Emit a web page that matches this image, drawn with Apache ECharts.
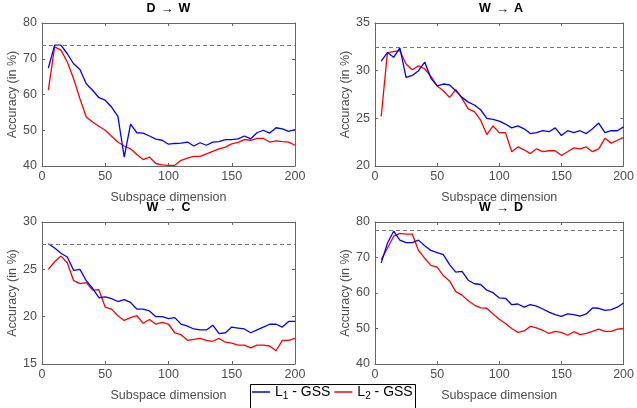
<!DOCTYPE html>
<html>
<head>
<meta charset="utf-8">
<script src="https://cdn.jsdelivr.net/npm/echarts@6/dist/echarts.min.js"></script>
<style>html,body{margin:0;padding:0;background:#fff}#c{width:637px;height:408px}</style>
</head>
<body>
<div id="c"></div>
<script>
var dims = [5,10,15,20,25,30,35,40,45,50,55,60,65,70,75,80,85,90,95,100,105,110,115,120,125,130,135,140,145,150,155,160,165,170,175,180,185,190,195,200];

var titlesFrom = ['D','W','W','W'];
var titlesTo = ['W','A','C','D'];

var dwL1 = [67.4,73.8,73.8,71.4,68.6,67,63,61.2,59.1,58.4,56.5,53.9,42.5,51.7,49.3,49.2,48.4,47.5,47.2,46.1,46.3,46.4,46.7,45.6,46.5,45.8,46.7,46.8,47.4,47.4,47.6,48.4,47.6,49.3,50,49.2,50.7,50.4,49.7,50.2];
var dwL2 = [61.2,73.3,72.4,69.1,64.4,58.8,53.7,52.3,51.1,50,48.3,46.7,45.6,44.8,43.2,41.8,42.5,40.7,40.3,40.2,40.2,41.6,42.2,42.7,42.7,43.4,44.1,44.8,45.3,46.2,46.6,47.4,47.2,47.7,47.7,46.7,47,46.8,46.7,45.8];

var waL1 = [31.0,31.9,31.4,32.4,29.3,29.5,30.0,30.9,29.2,28.4,28.6,28.5,27.9,27.2,26.7,26.4,25.9,25.0,24.9,24.7,24.4,24.0,24.2,23.9,23.4,23.5,23.7,23.6,24.0,23.2,23.7,23.5,23.7,23.4,23.9,24.5,23.5,23.7,23.7,24.1];
var waL2 = [25.2,31.9,32.0,32.1,30.7,30.1,30.5,30.2,29.4,28.4,27.9,27.2,28.0,27.1,26.0,25.7,24.8,23.3,24.2,23.5,23.5,21.5,22.0,21.7,21.3,21.8,21.5,21.6,21.6,21.1,21.5,21.9,21.8,22.0,21.5,21.8,22.9,22.4,22.7,23.0];

var wcL1 = [27.7,27.25,26.7,26.3,24.9,25.0,23.8,23.0,22.0,22.1,21.9,21.6,21.8,21.5,20.8,20.8,20.6,20.0,20.0,19.8,19.9,19.2,19.0,18.7,18.6,18.6,19.1,18.2,18.3,18.9,18.8,18.7,18.3,18.6,18.9,19.2,19.2,18.9,19.5,19.5];
var wcL2 = [25.0,25.8,26.4,25.7,23.8,23.5,23.6,22.8,22.85,21.0,20.8,20.1,19.6,19.9,20.1,19.3,19.7,19.2,19.4,19.2,18.3,18.1,17.5,17.6,17.7,17.5,17.4,17.7,17.3,17.2,17.0,17.0,16.7,17.0,17.0,16.9,16.4,17.5,17.5,17.7];

var wdL1 = [68.5,74.0,77.4,74.9,74.2,74.2,74.9,73.3,72.0,71.4,70.8,68.0,65.9,66.1,63.6,62.6,62.4,60.8,60.1,58.6,58.5,56.7,56.9,56.0,56.7,56.3,55.5,54.6,53.9,53.4,54.1,53.9,53.5,54.1,55.8,55.7,55.1,55.3,56.0,57.2];
var wdL2 = [69.4,72.6,76.0,76.8,76.6,76.6,72.0,69.8,67.8,67.3,64.9,63.4,60.4,59.4,57.8,56.6,55.8,55.7,54.1,52.6,51.4,50.0,48.9,49.3,50.6,50.2,49.5,48.6,49.2,48.9,48.1,49.1,48.3,48.6,49.2,49.8,49.2,49.2,49.8,50.0];

var baselines = [73.7, 32.5, 27.7, 77.6];
var yMins = [40, 20, 15, 40];
var yMaxs = [80, 35, 30, 80];
var yIntervals = [10, 5, 5, 10];

var seriesL1 = [dwL1, waL1, wcL1, wdL1];
var seriesL2 = [dwL2, waL2, wcL2, wdL2];

var FONT = '"Liberation Sans", Arial, Helvetica, sans-serif';
var AX = '#666666';
var LBL = '#4d4d4d';

var grids = [
  {left: 42, top: 23, width: 253, height: 143},
  {left: 375, top: 23, width: 252, height: 143},
  {left: 42, top: 222, width: 253, height: 142},
  {left: 375, top: 222, width: 252, height: 142}
];

function pair(x){ return dims.map(function(d,i){ return [d, x[i]]; }); }

var xAxes = [], yAxes = [], series = [], titles = [];
for (var g = 0; g < 4; g++) {
  xAxes.push({
    gridIndex: g, type: 'value', min: 0, max: 200, interval: 50, position: 'bottom',
    name: 'Subspace dimension', nameLocation: 'middle', nameGap: 25,
    nameTextStyle: {color: LBL, fontSize: 12.5, fontFamily: FONT},
    axisLine: {show: true, onZero: false, lineStyle: {color: AX, width: 1}},
    axisTick: {show: true, inside: true, length: 3, lineStyle: {color: AX}},
    axisLabel: {color: LBL, fontSize: 12.5, fontFamily: FONT, margin: 4},
    splitLine: {show: false}
  });
  xAxes.push({
    gridIndex: g, type: 'value', min: 0, max: 200, interval: 50, position: 'top',
    axisLine: {show: true, onZero: false, lineStyle: {color: AX, width: 1}},
    axisTick: {show: true, inside: true, length: 3, lineStyle: {color: AX}},
    axisLabel: {show: false}, splitLine: {show: false}
  });
  yAxes.push({
    gridIndex: g, type: 'value', min: yMins[g], max: yMaxs[g], interval: yIntervals[g], position: 'left',
    name: 'Accuracy (in %)', nameLocation: 'middle', nameGap: 21,
    nameTextStyle: {color: LBL, fontSize: 12.5, fontFamily: FONT},
    axisLine: {show: true, onZero: false, lineStyle: {color: AX, width: 1}},
    axisTick: {show: true, inside: true, length: 3, lineStyle: {color: AX}},
    axisLabel: {color: LBL, fontSize: 12.5, fontFamily: FONT, margin: 5},
    splitLine: {show: false}
  });
  yAxes.push({
    gridIndex: g, type: 'value', min: yMins[g], max: yMaxs[g], interval: yIntervals[g], position: 'right',
    axisLine: {show: true, onZero: false, lineStyle: {color: AX, width: 1}},
    axisTick: {show: true, inside: true, length: 3, lineStyle: {color: AX}},
    axisLabel: {show: false}, splitLine: {show: false}
  });
  series.push({
    name: 'L1 - GSS', type: 'line', xAxisIndex: 2*g, yAxisIndex: 2*g,
    data: pair(seriesL1[g]), showSymbol: false, symbol: 'none',
    lineStyle: {color: '#0000ff', width: 1.3}, itemStyle: {color: '#0000ff'},
    z: 3, animation: false,
    markLine: {
      silent: true, symbol: 'none', label: {show: false},
      lineStyle: {color: '#777777', type: [4, 3], width: 1},
      data: [{yAxis: baselines[g]}], animation: false
    }
  });
  series.push({
    name: 'L2 - GSS', type: 'line', xAxisIndex: 2*g, yAxisIndex: 2*g,
    data: pair(seriesL2[g]), showSymbol: false, symbol: 'none',
    lineStyle: {color: '#ff0000', width: 1.3}, itemStyle: {color: '#ff0000'},
    z: 2, animation: false
  });
  titles.push({
    text: '{b|' + titlesFrom[g] + '} {a|→} {b|' + titlesTo[g] + '}',
    left: grids[g].left + grids[g].width / 2, top: grids[g].top - 23, textAlign: 'center',
    padding: 0,
    textStyle: {
      fontWeight: 'normal',
      rich: {
        b: {fontWeight: 'bold', fontSize: 12.5, color: '#000', fontFamily: FONT},
        a: {fontWeight: 'normal', fontSize: 13, color: '#000', fontFamily: FONT}
      }
    }
  });
}

var chart = echarts.init(document.getElementById('c'), null, {renderer: 'canvas'});
chart.setOption({
  animation: false,
  backgroundColor: '#ffffff',
  title: titles,
  grid: grids,
  xAxis: xAxes,
  yAxis: yAxes,
  series: series,
  legend: {
    data: [{name: 'L1 - GSS', icon: 'rect'}, {name: 'L2 - GSS', icon: 'rect'}],
    left: 252, top: 385, itemWidth: 18, itemHeight: 1.5, itemGap: 4,
    padding: 0,
    formatter: function(n){ return n === 'L1 - GSS' ? '{m|L}{s|1}{m| - GSS}' : '{m|L}{s|2}{m| - GSS}'; },
    textStyle: {
      color: '#000', fontFamily: FONT,
      rich: {
        m: {fontSize: 14, color: '#000', fontFamily: FONT},
        s: {fontSize: 10, color: '#000', fontFamily: FONT, verticalAlign: 'bottom', padding: [8, 0, 0, 0]}
      }
    }
  },
  graphic: [{
    type: 'rect', left: 248, top: 382,
    shape: {width: 165, height: 40},
    style: {fill: 'none', stroke: '#000', lineWidth: 1}
  }]
});
</script>
</body>
</html>
